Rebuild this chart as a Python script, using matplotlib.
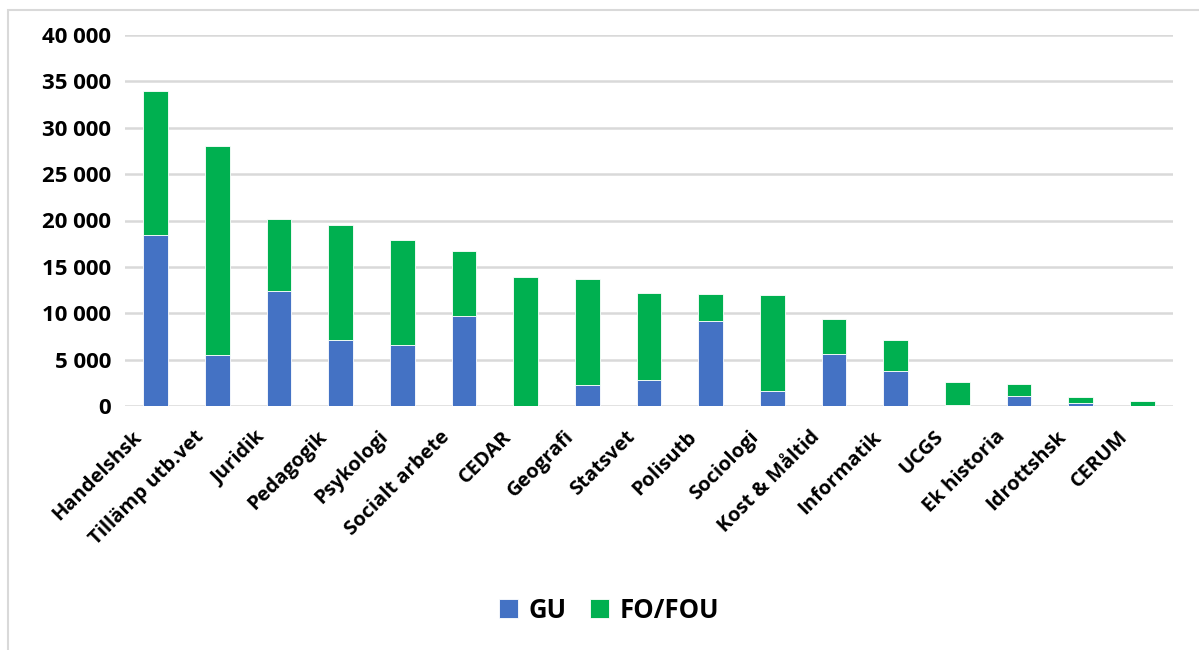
import numpy as np
import matplotlib
matplotlib.use("Agg")
from matplotlib import pyplot as plt
from matplotlib.patches import Rectangle
from matplotlib.transforms import ScaledTranslation

# institutions and values (thousands of kr)
institutions = ["Handelshsk", "Tillämp utb.vet", "Juridik", "Pedagogik", "Psykologi",
                "Socialt arbete", "CEDAR", "Geografi", "Statsvet", "Polisutb",
                "Sociologi", "Kost & Måltid", "Informatik", "UCGS", "Ek historia",
                "Idrottshsk", "CERUM"]
gu = [18400, 5450, 12400, 7150, 6550, 9750, 0, 2250, 2800, 9150,
      1600, 5600, 3800, 150, 1100, 300, 0]
fo_fou = [15550, 22600, 7750, 12350, 11300, 7000, 13900, 11400, 9400, 2950,
          10400, 3800, 3300, 2450, 1250, 680, 550]

yticks = [0, 5000, 10000, 15000, 20000, 25000, 30000, 35000, 40000]

blue = "#4472C4"
green = "#00B050"
grid = "#D9D9D9"

plt.rcParams["font.family"] = ["Open Sans", "DejaVu Sans"]
plt.rcParams["font.weight"] = "bold"

fig = plt.figure(figsize=(11.99, 6.5), dpi=100)
ax = fig.add_axes([125 / 1199, 1 - 406 / 650, 1048 / 1199, 371 / 650])

x = np.arange(len(institutions))
ax.bar(x, gu, width=0.4, color=blue, edgecolor="white", linewidth=0.6, label="GU", zorder=3)
ax.bar(x, fo_fou, width=0.4, bottom=gu, color=green, edgecolor="white", linewidth=0.6,
       label="FO/FOU", zorder=3)

ax.set_xlim(-0.5, len(institutions) - 0.5)
ax.set_ylim(0, 40000)
ax.set_yticks(yticks)
ax.set_yticklabels([f"{v:,}".replace(",", " ") for v in yticks], fontsize=16, fontweight="bold")
ax.yaxis.grid(True, color=grid, linewidth=1.8, zorder=0)
ax.set_axisbelow(True)
for s in ax.spines.values():
    s.set_visible(False)
ax.tick_params(axis="both", length=0)
ax.tick_params(axis="y", pad=10)

ax.set_xticks(x)
ax.set_xticklabels(institutions, rotation=45, ha="right", rotation_mode="anchor",
                   fontsize=14.5, fontweight="bold")
ax.tick_params(axis="x", pad=8)
shift = ScaledTranslation(-24 / 100, -10 / 100, fig.dpi_scale_trans)
for lbl in ax.get_xticklabels():
    lbl.set_transform(lbl.get_transform() + shift)

leg = fig.legend(loc="center", bbox_to_anchor=(0.508, 1 - 610 / 650), ncol=2, frameon=False,
                 handlelength=0.75, handleheight=0.75, columnspacing=0.9,
                 handletextpad=0.4, prop={"family": "Open Sans", "weight": "bold", "size": 18.5})

# chart frame
fig.patches.append(Rectangle((8 / 1199, -0.01), 1.2, 1 - 10 / 650 + 0.01,
                             transform=fig.transFigure, fill=False,
                             edgecolor="#D9D9D9", linewidth=1.5))

fig.savefig("out.png", dpi=100)
